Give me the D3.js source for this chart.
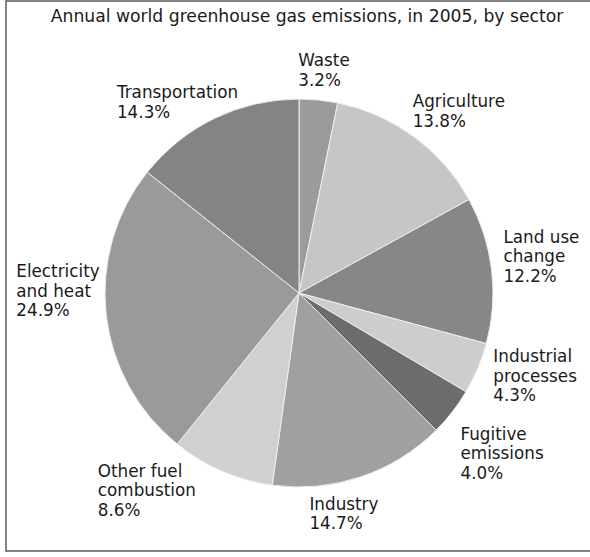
<!DOCTYPE html>
<html>
<head>
<meta charset="utf-8">
<script src="https://cdn.jsdelivr.net/npm/d3@7"></script>
<style>
  html, body { margin: 0; padding: 0; background: #fff; }
  svg { display: block; }
  text { font-family: "DejaVu Sans", sans-serif; fill: #1a1a1a; }
</style>
</head>
<body>
<svg id="chart" width="590" height="557"></svg>
<script>
// ---- data ----
const title = "Annual world greenhouse gas emissions, in 2005, by sector";
const sectors = [
  ["Waste"],
  ["Agriculture"],
  ["Land use", "change"],
  ["Industrial", "processes"],
  ["Fugitive", "emissions"],
  ["Industry"],
  ["Other fuel", "combustion"],
  ["Electricity", "and heat"],
  ["Transportation"]
];
const shares = [3.2, 13.8, 12.2, 4.3, 4.0, 14.7, 8.6, 24.9, 14.3];

// ---- styling / layout (not data) ----
const fills = ["#9b9b9b", "#c6c6c6", "#878787", "#cdcdcd", "#6c6c6c",
               "#a0a0a0", "#d0d0d0", "#9a9a9a", "#848484"];
// label block offsets (first baseline, left edge) relative to the arc anchor point
const labelShift = [[-22, -16], [-12, -15], [-6, -25], [-1, -13], [-6, 17],
                    [-57, 16], [-117, -11], [-72, -39], [-90, -4]];

const W = 590, H = 557;
const cx = 299, cy = 293, r = 194;
const svg = d3.select("#chart");

// frame
svg.append("rect")
  .attr("x", 6).attr("y", 1).attr("width", 600).attr("height", 550)
  .attr("fill", "none").attr("stroke", "#5a5a5a").attr("stroke-width", 1.5);

svg.append("text")
  .attr("x", 307).attr("y", 22)
  .attr("text-anchor", "middle")
  .attr("font-size", 17.2)
  .text(title);

const pie = d3.pie().sort(null).value(d => d)(shares);
const arc = d3.arc().innerRadius(0).outerRadius(r);
const labelArc = d3.arc().innerRadius(212).outerRadius(212);

const g = svg.append("g").attr("transform", `translate(${cx},${cy})`);

g.selectAll("path.slice")
  .data(pie)
  .join("path")
  .attr("class", "slice")
  .attr("d", arc)
  .attr("fill", (d, i) => fills[i])
  .attr("stroke", "#eeeeee")
  .attr("stroke-width", 1);

const lineH = 19.5;
pie.forEach((d, i) => {
  const [ax, ay] = labelArc.centroid(d);
  const x = ax + labelShift[i][0];
  const y = ay + labelShift[i][1];
  const lines = sectors[i].concat([d3.format(".1f")(shares[i]) + "%"]);
  const t = g.append("text")
    .attr("font-size", 16.8)
    .attr("x", x).attr("y", y);
  lines.forEach((ln, k) => {
    t.append("tspan").attr("x", x).attr("y", y + k * lineH).text(ln);
  });
});
</script>
</body>
</html>
